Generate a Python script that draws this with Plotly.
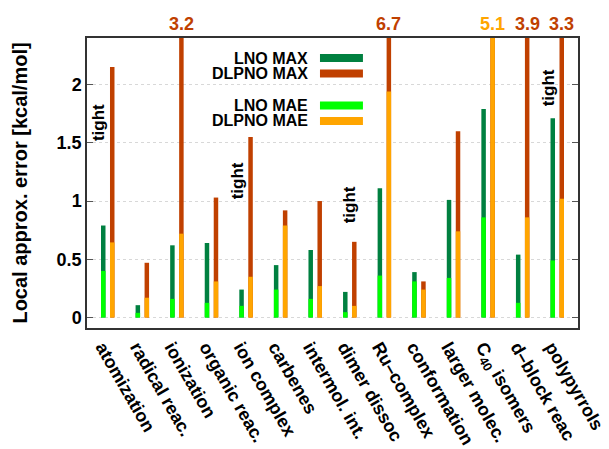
import plotly.graph_objects as go

categories = ["atomization", "radical reac.", "ionization", "organic reac.", "ion complex",
              "carbenes", "intermol. int.", "dimer dissoc", "Ru\u2013complex", "conformation",
              "larger molec.", "C<sub>40</sub> isomers", "d\u2013block reac", "polypyrrols"]
lno_max = [0.79, 0.106, 0.62, 0.64, 0.24, 0.45, 0.58, 0.22, 1.11, 0.39, 1.01, 1.79, 0.54, 1.71]
lno_mae = [0.40, 0.04, 0.16, 0.126, 0.10, 0.24, 0.16, 0.046, 0.36, 0.31, 0.34, 0.86, 0.126, 0.49]
dlpno_max = [2.15, 0.47, 3.2, 1.03, 1.55, 0.92, 1.00, 0.65, 6.7, 0.31, 1.60, 5.1, 3.9, 3.3]
dlpno_mae = [0.645, 0.17, 0.72, 0.31, 0.35, 0.79, 0.27, 0.10, 1.94, 0.24, 0.74, 5.1, 0.86, 1.02]
tight_idx = [0, 4, 7, 13]
tight_y = [1.67, 1.17, 0.97, 1.97]
tight_dx = [-0.28, -0.26, 0.0, -0.26]
y_ticks = [0, 0.5, 1, 1.5, 2]
y_max = 2.40
y_min = -0.09

C_LNO_MAX = "#008040"
C_LNO_MAE = "#00ff00"
C_DL_MAX = "#c04000"
C_DL_MAE = "#ffa500"
FONT = "Liberation Sans"

fig = go.Figure()
bw = 0.13
for vals, col, off, name in [(lno_max, C_LNO_MAX, -0.195, "LNO MAX"),
                             (lno_mae, C_LNO_MAE, -0.195, "LNO MAE"),
                             (dlpno_max, C_DL_MAX, 0.065, "DLPNO MAX"),
                             (dlpno_mae, C_DL_MAE, 0.065, "DLPNO MAE")]:
    fig.add_bar(x=categories, y=vals, width=bw, offset=off, marker_color=col,
                marker_line_width=0, opacity=1, name=name, showlegend=False)

annotations = []
# off-scale labels
for i, (mx, mae) in enumerate(zip(dlpno_max, dlpno_mae)):
    if mae > y_max:
        txt, col = f"{mae:g}", C_DL_MAE
    elif mx > y_max:
        txt, col = f"{mx:g}", C_DL_MAX
    else:
        continue
    annotations.append(dict(x=i + 0.13, y=1.0, xref="x", yref="paper", yanchor="bottom",
                            yshift=2, text=txt, showarrow=False,
                            font=dict(family=FONT, size=18, color=col, weight="bold")))
# tight labels
for i, ty, dx in zip(tight_idx, tight_y, tight_dx):
    annotations.append(dict(x=i + dx, y=ty, xref="x", yref="y", text="tight", textangle=-90,
                            showarrow=False, font=dict(family=FONT, size=17, color="black", weight="bold")))

# legend (gnuplot style: text then sample)
shapes = []
legend_items = [("LNO MAX", C_LNO_MAX, 0.931), ("DLPNO MAX", C_DL_MAX, 0.878),
                ("LNO MAE", C_LNO_MAE, 0.767), ("DLPNO MAE", C_DL_MAE, 0.714)]
for name, col, yy in legend_items:
    annotations.append(dict(x=0.454, y=yy, xref="paper", yref="paper", xanchor="right",
                            yanchor="middle", text=name, showarrow=False,
                            font=dict(family=FONT, size=16, color="black", weight="bold")))
    shapes.append(dict(type="line", xref="paper", yref="paper", x0=0.4745, x1=0.562,
                       y0=yy, y1=yy, line=dict(color=col, width=8)))

fig.update_layout(
    width=601, height=441, autosize=False,
    margin=dict(l=79, r=31, t=30, b=121),
    plot_bgcolor="white", paper_bgcolor="white",
    barmode="overlay", showlegend=False,
    annotations=annotations, shapes=shapes,
    font=dict(family=FONT, size=18, color="black", weight="bold"),
)
fig.update_xaxes(range=[-0.6, 13.6], tickangle=60, showline=True, linecolor="#333333",
                 linewidth=1.5, mirror=True, ticks="", showgrid=False, automargin=False,
                 ticklabelshift=-5,
                 tickfont=dict(family=FONT, size=18, color="black", weight="bold"))
fig.update_yaxes(range=[y_min, y_max], tickvals=y_ticks, ticktext=[f"{v:g}" for v in y_ticks],
                 ticks="inside", ticklen=6, tickcolor="#555555", mirror="ticks",
                 showline=True, linecolor="#333333", linewidth=1.5,
                 showgrid=True, gridcolor="#d8d8d8", griddash="dot", gridwidth=1,
                 zeroline=False, automargin=False,
                 tickfont=dict(family=FONT, size=18, color="black", weight="bold"),
                 title=dict(text="Local approx. error [kcal/mol]", standoff=24,
                            font=dict(family=FONT, size=20, color="black", weight="bold")))

fig.write_html("out.html")
